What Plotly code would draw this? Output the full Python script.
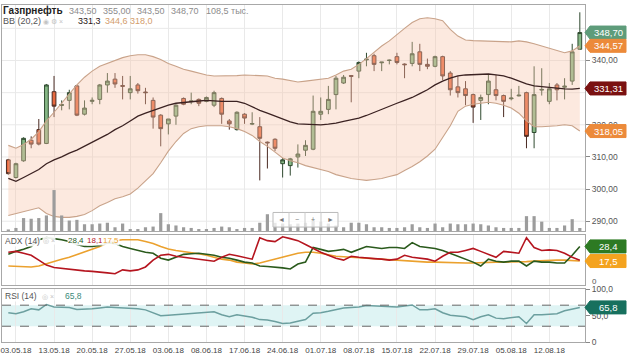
import plotly.graph_objects as go
import pandas as pd

# ---------------- data ----------------
bd = pd.bdate_range("2018-05-02", "2018-08-17")
drop = {pd.Timestamp("2018-05-09"), pd.Timestamp("2018-06-11"), pd.Timestamp("2018-06-12")}
days = sorted([d for d in bd if d not in drop] + [pd.Timestamp("2018-06-09")])
dates = [d.strftime("%d.%m.%y") for d in days]

open_ = [309.1, 303.6, 308.8, 315.2, 318.5, 314.2, 330.3, 326.0, 327.6, 332.1,
         323.3, 327.3, 327.9, 332.4, 334.2, 332.2, 330.0, 332.4, 330.2, 327.6,
         323.0, 320.3, 322.7, 328.2, 327.2, 327.9, 327.3, 326.1, 328.2, 321.2,
         318.5, 323.3, 320.2, 319.4, 314.6, 315.5, 307.9, 307.3, 310.0, 312.1,
         312.4, 323.3, 324.8, 329.4, 333.0, 335.3, 336.7, 340.2, 341.5, 339.3,
         340.0, 341.2, 338.9, 339.1, 342.7, 338.8, 338.2, 341.2, 336.1, 331.8,
         331.2, 329.4, 327.6, 329.4, 330.9, 329.1, 328.1, 329.0, 330.0, 317.6,
         330.8, 327.3, 332.4, 331.7, 333.6, 343.5]
high = [309.4, 308.2, 316.1, 316.4, 321.8, 332.7, 335.2, 327.6, 330.9, 332.4,
        327.6, 328.5, 332.7, 336.1, 336.1, 335.2, 335.2, 333.0, 331.5, 328.5,
        323.3, 321.8, 326.4, 328.5, 330.0, 328.2, 328.8, 330.6, 328.5, 321.8,
        324.2, 323.6, 323.9, 322.4, 314.8, 315.8, 309.7, 309.7, 313.9, 315.2,
        329.1, 328.5, 332.1, 335.2, 335.5, 335.5, 339.7, 342.4, 342.1, 339.5,
        340.3, 342.4, 339.1, 345.8, 345.2, 340.6, 341.5, 341.5, 336.7, 335.2,
        333.6, 329.7, 329.4, 335.5, 335.5, 329.4, 331.2, 332.1, 330.3, 338.2,
        337.6, 333.0, 333.0, 334.5, 345.2, 355.0]
low = [304.5, 303.3, 308.5, 312.7, 313.6, 314.0, 322.4, 324.5, 324.8, 322.7,
       322.9, 326.4, 326.4, 330.0, 331.5, 327.9, 327.9, 329.7, 326.4, 318.8,
       313.3, 317.0, 320.0, 326.1, 326.4, 325.8, 327.0, 325.5, 320.3, 318.5,
       318.2, 320.3, 319.9, 302.7, 306.4, 311.8, 303.6, 304.2, 306.7, 310.3,
       312.1, 321.5, 323.3, 324.8, 332.7, 327.0, 334.5, 338.2, 336.7, 336.7,
       338.8, 338.8, 334.5, 338.2, 336.7, 337.3, 337.9, 333.9, 329.1, 328.5,
       326.1, 320.6, 321.5, 326.4, 327.6, 322.4, 327.6, 328.8, 312.7, 312.7,
       329.1, 326.4, 327.6, 327.9, 332.4, 343.5]
close = [304.8, 307.9, 315.8, 314.0, 314.0, 332.4, 325.8, 326.3, 330.0, 323.0,
         325.2, 327.6, 332.4, 333.6, 332.7, 332.0, 331.2, 330.6, 330.0, 322.4,
         318.8, 321.8, 326.1, 326.4, 327.4, 326.7, 328.5, 330.0, 323.3, 320.3,
         323.9, 322.1, 320.4, 315.8, 314.4, 312.7, 309.1, 309.4, 310.9, 313.6,
         324.2, 324.2, 327.9, 334.5, 334.8, 335.1, 339.4, 340.4, 338.8, 339.5,
         340.1, 339.4, 338.7, 342.1, 338.8, 338.2, 341.2, 335.2, 330.9, 330.0,
         329.1, 325.5, 328.5, 333.6, 329.1, 327.3, 328.3, 329.2, 316.4, 329.4,
         331.0, 331.2, 330.9, 332.0, 342.7, 348.7]
volume = [55, 110, 470, 445, 470, 565, 1490, 565, 380, 405,
          245, 245, 270, 300, 135, 270, 70, 70, 135, 160,
          650, 245, 200, 135, 110, 70, 70, 110, 160, 135,
          70, 110, 110, 300, 610, 300, 270, 245, 270, 300,
          405, 340, 270, 200, 135, 300, 300, 245, 135, 135,
          110, 110, 135, 245, 135, 110, 270, 135, 270, 245,
          245, 270, 245, 200, 135, 110, 110, 110, 540, 540,
          340, 110, 110, 200, 430, 108.5]

bb_upper = [313.6, 312.7, 313.9, 315.5, 317.9, 321.2, 323.9, 326.7, 329.7, 332.4,
            334.8, 336.7, 338.2, 339.1, 340.0, 340.9, 341.5, 341.8, 341.8, 341.2,
            340.3, 339.1, 338.2, 337.3, 336.7, 336.1, 335.5, 335.2, 335.2, 335.2,
            335.3, 335.5, 335.5, 335.3, 335.2, 334.5, 334.2, 333.8, 333.3, 333.6,
            333.9, 334.2, 334.5, 335.5, 336.7, 337.3, 338.8, 340.6, 342.7, 344.5,
            346.1, 348.2, 350.0, 351.8, 353.0, 353.3, 353.0, 352.4, 349.7, 347.6,
            346.4, 346.2, 346.1, 346.1, 345.9, 345.8, 345.8, 346.1, 345.8, 345.2,
            344.5, 343.9, 343.0, 342.4, 343.0, 344.57]
bb_mid = [303.3, 302.4, 303.6, 304.8, 306.1, 307.9, 309.1, 310.0, 311.2, 312.1,
          313.3, 314.5, 315.8, 317.0, 318.5, 319.7, 321.2, 322.7, 323.6, 324.5,
          325.2, 326.1, 326.7, 327.0, 327.3, 327.4, 327.6, 327.4, 327.3, 327.3,
          327.3, 326.7, 325.5, 324.5, 323.6, 322.7, 321.8, 320.9, 320.3, 320.2,
          320.0, 320.0, 320.2, 320.5, 321.1, 321.5, 322.1, 322.9, 323.9, 324.8,
          325.9, 326.7, 327.6, 328.5, 329.7, 330.9, 332.4, 333.6, 334.5, 335.2,
          335.5, 335.6, 335.8, 335.8, 335.5, 335.2, 334.5, 333.6, 332.7, 332.1,
          331.8, 331.5, 331.4, 331.2, 331.1, 331.31]
bb_lower = [291.8, 292.4, 293.0, 293.6, 294.2, 292.4, 291.5, 291.2, 291.2, 291.5,
            292.1, 293.3, 294.8, 295.8, 297.0, 297.6, 298.5, 300.3, 302.4, 304.8,
            308.2, 311.8, 314.8, 317.3, 318.8, 319.4, 319.7, 319.7, 319.7, 319.4,
            318.8, 317.9, 316.7, 314.8, 313.3, 311.5, 309.7, 308.8, 308.2, 307.3,
            306.7, 306.1, 305.5, 304.5, 303.9, 303.3, 303.0, 302.7, 303.0, 303.3,
            303.9, 304.5, 305.8, 307.0, 308.5, 310.3, 312.4, 316.1, 319.7, 324.2,
            325.8, 326.4, 326.7, 327.0, 326.7, 326.1, 325.2, 323.6, 321.2, 319.4,
            319.4, 319.5, 319.7, 320.0, 319.7, 318.05]

plus_di = [22.5, 24.7, 26.2, 28.3, 33.4, 34.9, 34.2, 33.4, 32.0, 29.8,
           28.3, 28.3, 29.1, 31.2, 30.5, 28.3, 26.9, 25.4, 24.0, 23.3,
           19.6, 18.2, 20.3, 22.5, 22.9, 23.3, 22.5, 21.8, 20.3, 19.6,
           18.2, 16.7, 16.0, 13.8, 13.4, 13.1, 12.4, 11.6, 15.3, 16.7,
           27.6, 26.2, 24.7, 25.4, 26.2, 24.0, 26.2, 28.3, 27.6, 26.9,
           27.6, 27.6, 26.9, 31.2, 28.3, 27.6, 26.9, 25.4, 23.3, 21.1,
           18.9, 16.7, 13.8, 18.9, 17.4, 16.7, 17.4, 17.4, 13.8, 17.4,
           16.7, 16.7, 16.0, 16.0, 21.8, 28.4]
minus_di = [24.0, 24.7, 23.3, 21.8, 18.2, 14.5, 12.7, 12.0, 11.6, 10.9,
            10.2, 9.8, 9.4, 8.7, 8.0, 10.9, 10.2, 10.9, 13.1, 18.2,
            21.8, 22.5, 21.1, 20.3, 19.6, 18.9, 18.2, 17.4, 20.3, 22.5,
            21.4, 20.3, 18.9, 34.9, 32.7, 32.0, 35.6, 34.2, 32.7, 29.8,
            26.9, 24.0, 21.8, 19.6, 18.2, 21.1, 20.3, 19.6, 19.3, 18.9,
            18.2, 18.9, 21.8, 20.3, 19.6, 18.9, 17.4, 21.1, 24.0, 24.0,
            25.4, 26.9, 24.7, 22.5, 20.3, 24.7, 24.0, 23.3, 34.9, 27.6,
            25.4, 25.8, 25.4, 23.3, 20.3, 18.1]
adx = [13.8, 13.4, 13.1, 13.1, 13.8, 15.6, 17.4, 18.9, 20.3, 22.2,
       24.3, 26.2, 28.3, 30.9, 32.7, 33.4, 33.4, 33.4, 32.0, 30.5,
       28.3, 26.5, 25.4, 24.7, 24.0, 22.9, 21.8, 20.3, 18.9, 18.2,
       16.7, 16.0, 15.3, 16.0, 17.4, 18.9, 20.3, 21.8, 23.3, 24.0,
       24.0, 23.3, 22.2, 21.1, 20.7, 20.3, 20.0, 19.6, 19.3, 18.9,
       18.5, 18.2, 17.8, 17.4, 17.1, 16.7, 16.7, 16.4, 16.4, 16.0,
       16.0, 16.0, 16.4, 16.7, 16.7, 16.7, 16.7, 16.7, 17.1, 17.4,
       17.8, 18.2, 18.2, 18.2, 17.8, 17.5]
rsi = [55.6, 53.7, 57.4, 63.0, 61.1, 71.3, 66.7, 66.7, 65.7, 62.0,
       62.0, 63.0, 64.8, 66.7, 65.7, 64.8, 64.8, 63.0, 61.1, 55.6,
       50.0, 50.9, 51.9, 53.7, 54.6, 55.6, 56.5, 57.4, 51.9, 48.1,
       51.9, 50.0, 47.2, 42.6, 41.7, 38.9, 35.2, 36.1, 38.9, 42.6,
       54.6, 55.6, 58.3, 62.0, 64.8, 65.7, 66.7, 69.4, 68.5, 67.6,
       66.7, 66.7, 68.5, 70.4, 61.1, 61.1, 63.0, 55.6, 50.9, 50.0,
       48.1, 42.6, 48.1, 51.9, 45.4, 44.4, 46.3, 48.1, 35.2, 51.9,
       51.9, 52.8, 53.7, 59.3, 63.0, 65.8]

tick_labels = ["03.05.18", "13.05.18", "20.05.18", "27.05.18", "03.06.18",
               "08.06.18", "17.06.18", "24.06.18", "01.07.18", "08.07.18",
               "15.07.18", "22.07.18", "29.07.18", "05.08.18", "12.08.18"]
tick_dates = dates[1::5]
price_grid = [290, 300, 310, 320, 330, 340, 350]
price_ticks = [290, 300, 310, 320, 340]
price_tick_text = ["290,00", "300,00", "310,00", "320,00", "340,00"]

# ---------------- layout helpers ----------------
W, H = 630, 355
ML, MR, MT, MB = 2, 45, 0, 9
PW, PH = W - ML - MR, H - MT - MB


def px(x):
    return (x - ML) / PW


def py(y):
    return (PH - (y - MT)) / PH


FONT = "Arial, Liberation Sans, sans-serif"
GRID = "#e9e9e9"
FRAME = "#a8a8a8"
XR = [-0.83, 75.68]

fig = go.Figure()

# Bollinger band
fig.add_trace(go.Scatter(x=dates, y=bb_lower, mode="lines",
                         line=dict(color="#c9a38a", width=1.1), xaxis="x", yaxis="y",
                         hoverinfo="skip"))
fig.add_trace(go.Scatter(x=dates, y=bb_upper, mode="lines", fill="tonexty",
                         fillcolor="rgba(246,196,170,0.38)",
                         line=dict(color="#c9a38a", width=1.1), xaxis="x", yaxis="y",
                         hoverinfo="skip"))
fig.add_trace(go.Scatter(x=dates, y=bb_mid, mode="lines",
                         line=dict(color="#3b2222", width=1.3), xaxis="x", yaxis="y",
                         hoverinfo="skip"))

# candles
fig.add_trace(go.Candlestick(x=dates, open=open_, high=high, low=low, close=close,
                             increasing=dict(fillcolor="#86b886", line=dict(color="#2f4a2f", width=1)),
                             decreasing=dict(fillcolor="#e8693f", line=dict(color="#4a2a22", width=1)),
                             xaxis="x", yaxis="y", hoverinfo="skip"))

# volume
fig.add_trace(go.Bar(x=dates, y=volume, marker=dict(color="#9c9c9c", line=dict(width=0)),
                     width=0.42, xaxis="x", yaxis="y4", hoverinfo="skip"))

# ADX panel
fig.add_trace(go.Scatter(x=dates, y=adx, mode="lines", line=dict(color="#eba12e", width=1.6),
                         xaxis="x2", yaxis="y2", hoverinfo="skip"))
fig.add_trace(go.Scatter(x=dates, y=plus_di, mode="lines", line=dict(color="#2a5a1c", width=1.6),
                         xaxis="x2", yaxis="y2", hoverinfo="skip"))
fig.add_trace(go.Scatter(x=dates, y=minus_di, mode="lines", line=dict(color="#b5151f", width=1.6),
                         xaxis="x2", yaxis="y2", hoverinfo="skip"))

# RSI panel
fig.add_trace(go.Scatter(x=dates, y=rsi, mode="lines", line=dict(color="#6c9f9f", width=1.5),
                         xaxis="x3", yaxis="y3", hoverinfo="skip"))

main_dom = [py(232), 1.0]
adx_dom = [py(287), py(236)]
rsi_dom = [0.0, py(292)]

xcommon = dict(type="category", categoryorder="array", categoryarray=dates, range=XR,
               showgrid=True, gridcolor=GRID, gridwidth=1, tickvals=tick_dates,
               showline=True, mirror=True, linecolor=FRAME, linewidth=1,
               zeroline=False, fixedrange=True)

fig.update_layout(
    width=W, height=H, margin=dict(l=ML, r=MR, t=MT, b=MB),
    paper_bgcolor="white", plot_bgcolor="white", showlegend=False,
    font=dict(family=FONT, size=9, color="#555"),
    xaxis=dict(**xcommon, anchor="y", showticklabels=False, rangeslider=dict(visible=False)),
    xaxis2=dict(**xcommon, anchor="y2", showticklabels=False),
    xaxis3=dict(**xcommon, anchor="y3", showticklabels=True, ticktext=tick_labels,
                ticks="", tickfont=dict(size=8, color="#444")),
    yaxis=dict(domain=main_dom, range=[286.97, 357.27], side="right", showgrid=False,
               tickvals=price_ticks, ticktext=price_tick_text,
               ticks="outside", ticklen=4, tickcolor="#888", tickfont=dict(size=8.5, color="#555"),
               showline=True, mirror=True, linecolor=FRAME, zeroline=False, anchor="x"),
    yaxis4=dict(domain=main_dom, range=[0, 8230], overlaying="y", visible=False, anchor="x"),
    yaxis2=dict(domain=adx_dom, range=[0, 37], side="right", showgrid=False,
                showticklabels=False, ticks="", showline=True, mirror=True,
                linecolor=FRAME, zeroline=False, anchor="x2"),
    yaxis3=dict(domain=rsi_dom, range=[0, 100], side="right", showgrid=False,
                tickvals=[0, 50, 100], ticktext=["0", "50,0", "100,0"], ticks="outside",
                ticklen=4, tickcolor="#888", tickfont=dict(size=8.5, color="#555"),
                showline=True, mirror=True, linecolor=FRAME, zeroline=False, anchor="x3"),
)

shapes = []
# price grid lines (drawn below traces)
for g in price_grid:
    shapes.append(dict(type="line", xref="x domain", yref="y", x0=0, x1=1, y0=g, y1=g,
                       line=dict(color=GRID, width=1), layer="below"))
# RSI band 30-70 and dashed lines
shapes.append(dict(type="rect", xref="x3 domain", yref="y3", x0=0, x1=1, y0=30, y1=70,
                   fillcolor="#dff4f4", line=dict(width=0), layer="below"))
for lvl in (30, 70):
    shapes.append(dict(type="line", xref="x3 domain", yref="y3", x0=0, x1=1, y0=lvl, y1=lvl,
                       line=dict(color="#666", width=1, dash="dash")))

# value tags on the right
tags = [("348,70", "y", 348.70, "#5e9c7a"),
        ("344,57", "y", 344.57, "#ec8a3a"),
        ("331,31", "y", 331.31, "#7a1111"),
        ("318,05", "y", 318.05, "#ec8a3a"),
        ("28,4", "y2", 28.4, "#2d7a23"),
        ("17,5", "y2", 17.5, "#f4a31f"),
        ("65,8", "y3", 65.8, "#17705e")]
annotations = []
for txt, yr, val, col in tags:
    shapes.append(dict(type="path", xref="paper", xsizemode="pixel", xanchor=1.0,
                       yref=yr, ysizemode="pixel", yanchor=val,
                       path="M 0 0 L 5 -6.5 L 41 -6.5 L 41 6.5 L 5 6.5 Z",
                       fillcolor=col, line=dict(color=col, width=1)))
    annotations.append(dict(xref="paper", yref=yr, x=1.0, y=val, xshift=23, xanchor="center",
                            yanchor="middle", text=txt, showarrow=False,
                            font=dict(size=9.5, color="white", family=FONT)))

# ADX zero label (squeezed above the RSI 100 label, as in the source)
annotations.append(dict(xref="paper", yref="paper", x=1.0, xshift=5, y=py(283.5),
                        xanchor="left", yanchor="middle", text="0", showarrow=False,
                        font=dict(size=8, color="#555", family=FONT)))

# navigation box
shapes.append(dict(type="rect", xref="paper", yref="paper", x0=px(273), x1=px(338),
                   y0=py(228), y1=py(213), fillcolor="rgba(255,255,255,0.75)",
                   line=dict(color="#bbbbbb", width=1)))
for bx in (289, 305, 321):
    shapes.append(dict(type="line", xref="paper", yref="paper", x0=px(bx), x1=px(bx),
                       y0=py(228), y1=py(213), line=dict(color="#cccccc", width=1)))
for sym, cx in (("◄", 281), ("−", 297), ("+", 313), ("►", 330)):
    annotations.append(dict(xref="paper", yref="paper", x=px(cx), y=py(220.5), text=sym,
                            showarrow=False, xanchor="center", yanchor="middle",
                            font=dict(size=7, color="#777")))


def label(text, x, y, color, size=9, bold=False, bg=None):
    t = f"<b>{text}</b>" if bold else text
    a = dict(xref="paper", yref="paper", x=px(x), y=py(y), text=t,
             showarrow=False, xanchor="left", yanchor="middle", borderpad=0,
             font=dict(size=size, color=color, family=FONT))
    if bg:
        a["bgcolor"] = bg
    annotations.append(a)


WB = "rgba(255,255,255,0.9)"
# header line 1
label("Газпрнефть", 2, 6, "#222", size=10, bold=True)
for txt, x in (("343,50", 68), ("355,00", 102), ("343,50", 136), ("348,70", 170), ("108,5 тыс.", 205)):
    label(txt, x, 6, "#8c8c8c", size=9)
# header line 2
label("BB (20,2)", 2, 16.5, "#555", size=9)
label("◉ ⚙ ×", 42, 16.5, "#c4c4c4", size=7)
label("331,3", 77, 16.5, "#2b1414", size=9)
label("344,6", 104, 16.5, "#d39d6c", size=9)
label("318,0", 129, 16.5, "#d39d6c", size=9)
# ADX header
label("ADX (14)", 4, 242, "#555", size=8.5, bg=WB)
label("◎ ×", 42, 242, "#c4c4c4", size=7, bg=WB)
label("28,4", 67, 242, "#2a5a1c", size=8, bg=WB)
label("18,1", 86, 242, "#b5151f", size=8, bg=WB)
label("17,5", 102, 242, "#eba12e", size=8, bg=WB)
# RSI header
label("RSI (14)", 4, 299, "#555", size=8.5, bg=WB)
label("◎ ×", 41, 299, "#c4c4c4", size=7, bg=WB)
label("65,8", 64, 299, "#3a8a7a", size=8.5, bg=WB)

fig.update_layout(shapes=shapes, annotations=annotations, hovermode=False)
fig.write_html("out.html", config={"displayModeBar": False, "staticPlot": True})
